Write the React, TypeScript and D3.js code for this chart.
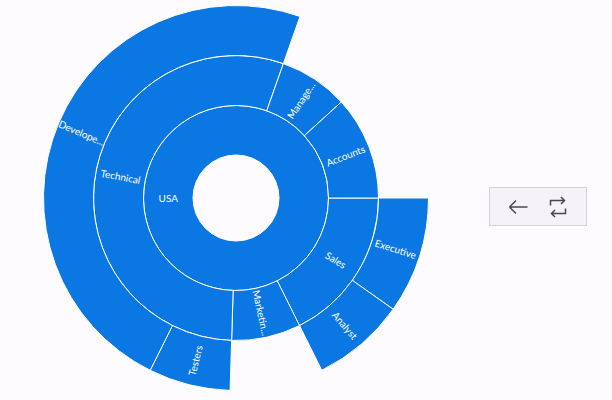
import React from 'react';
import * as d3 from 'd3';

// drilled-in view: USA
const rootName = 'USA';
const jobs = ['Sales', 'Sales', 'Marketing', 'Technical', 'Technical', 'Management', 'Accounts'];
const jobGroups = ['Executive', 'Analyst', '', 'Testers', 'Developers', '', ''];
const counts = [50, 40, 40, 35, 245, 40, 60];
// labels as they appear after trimming to fit the ring
const shortLabels: Record<string, string> = {
  Developers: 'Develope...',
  Management: 'Manage...',
  Marketing: 'Marketin...',
};

const width = 612;
const height = 400;
const cx = 236;
const cy = 198;
const radii = [43, 92.5, 142.5, 192.5];
const fill = '#0B77E2';

type Node = { name: string; value?: number; children?: Node[] };

const buildTree = (): Node => {
  const byJob = d3.group(d3.range(counts.length), i => jobs[i]);
  const children: Node[] = Array.from(byJob, ([job, idx]) => {
    const subs = idx.filter(i => jobGroups[i]);
    if (subs.length === 0) return { name: job, value: d3.sum(idx, i => counts[i]) };
    return { name: job, children: subs.map(i => ({ name: jobGroups[i], value: counts[i] })) };
  });
  return { name: rootName, children };
};

const App = () => {
  const root = d3.hierarchy<Node>(buildTree()).sum(d => d.value || 0);
  const parts = d3.partition<Node>().size([2 * Math.PI, 1])(root);
  const nodes = parts.descendants();

  const arc = d3
    .arc<d3.HierarchyRectangularNode<Node>>()
    .startAngle(d => d.x0 + Math.PI / 2)
    .endAngle(d => d.x1 + Math.PI / 2)
    .innerRadius(d => radii[d.depth])
    .outerRadius(d => radii[d.depth + 1]);

  return (
    <div style={{ position: 'absolute', left: 0, top: 0, width, height, background: '#FDFBFE' }}>
      <svg width={width} height={height} style={{ display: 'block' }}>
        <g transform={`translate(${cx},${cy})`}>
          {nodes.map((d, i) => (
            <path key={i} d={arc(d) || ''} fill={fill} stroke="#ffffff" strokeWidth={1} />
          ))}
          {nodes.map((d, i) => {
            const a = (d.x0 + d.x1) / 2;
            const r = (radii[d.depth] + radii[d.depth + 1]) / 2;
            let deg = (a * 180) / Math.PI;
            if (deg > 90 && deg < 270) deg -= 180;
            const x = r * Math.cos(a);
            const y = r * Math.sin(a);
            return (
              <text
                key={'t' + i}
                transform={`translate(${x},${y}) rotate(${deg})`}
                textAnchor="middle"
                dominantBaseline="central"
                fill="#ffffff"
                fontSize={10}
                fontFamily="'Segoe UI', Lato, sans-serif"
              >
                {shortLabels[d.data.name] || d.data.name}
              </text>
            );
          })}
        </g>
        <g transform="translate(489.5,187.5)">
          <rect width={97} height={38} fill="#F5F2F8" stroke="#D4D2D7" strokeWidth={1} />
          {/* back arrow */}
          <path d="M20,19.5 H38 M20,19.5 L26.5,13 M20,19.5 L26.5,26" stroke="#4A4850" strokeWidth={1.5} fill="none" />
          {/* reset icon */}
          <path
            d="M61,18 V13 H75 M71.5,9.5 L75,13 L71.5,16.5 M76,21 V26 H62 M65.5,22.5 L62,26 L65.5,29.5"
            stroke="#4A4850"
            strokeWidth={1.5}
            fill="none"
          />
        </g>
      </svg>
    </div>
  );
};

export default App;
